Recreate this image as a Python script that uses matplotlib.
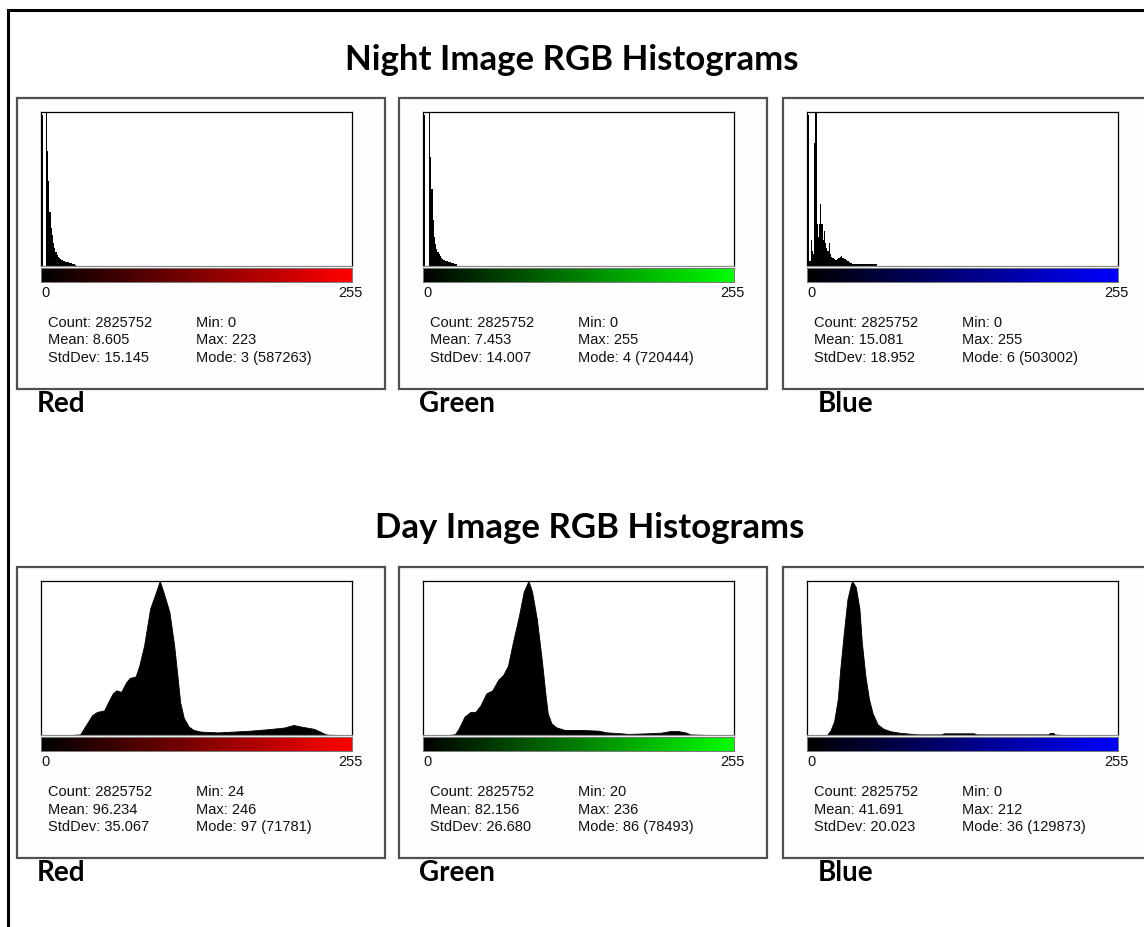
import numpy as np
import matplotlib
matplotlib.use("Agg")
import matplotlib.pyplot as plt
from matplotlib.patches import Rectangle
from matplotlib.lines import Line2D

# ********************** data **********************
channels = ["Red", "Green", "Blue"]
bar_colors = [(1, 0, 0), (0, 1, 0), (0, 0, 1)]

# night image: counts per grey level (levels 0..n, rest are ~0)
night_red_counts = [575500, 0, 0, 587263, 440400, 323000, 205500, 146800, 117500, 88100,
                    70500, 52900, 41100, 35200, 29400, 26400, 23500, 20600, 17600, 16400,
                    15300, 14100, 12900, 11700, 10600, 8800, 5900, 3500]
night_green_counts = [706000, 0, 0, 0, 720444, 511500, 360200, 216100, 136900, 100900,
                      79200, 64800, 54000, 46800, 39600, 32400, 28800, 25200, 23100, 21600,
                      20200, 18000, 15800, 14400, 13000, 10800, 7200]
night_blue_counts = [493000, 15100, 85500, 50300, 40200, 402400, 503002, 135800, 95600, 135800,
                     201200, 135800, 85500, 115700, 75500, 60400, 50300, 75500, 40200, 30200,
                     25200, 22600, 20100, 20100, 22600, 25200, 30200, 32700, 27700, 25200,
                     22600, 20100, 17600, 15100, 12600, 10100, 7800, 7400, 7600, 7200,
                     7500, 7700, 7300, 7100, 7400, 7600, 7200, 7000, 7300, 7500,
                     7100, 6900, 7200, 7000, 6800, 6600, 6400]

# day image: (grey level, count) points along the outline
day_red_levels = [24, 31, 33, 37, 41, 45, 51, 54, 58, 61, 65, 69, 72, 77, 80, 84, 89, 94, 97, 100,
                  105, 109, 112, 114, 117, 121, 125, 131, 145, 158, 172, 186, 200, 208, 214, 225,
                  230, 234, 236, 246]
day_red_counts = [0, 300, 2150, 5740, 9330, 10770, 11490, 15070, 19380, 20820, 20100, 24410, 26560,
                  27280, 32300, 41630, 58860, 66760, 71781, 66760, 57420, 41630, 25840, 15070, 7900,
                  3950, 2370, 1580, 1220, 1580, 2010, 2660, 3450, 4670, 3950, 2870, 1580, 500, 140, 0]
day_green_levels = [20, 25, 28, 33, 38, 42, 46, 51, 56, 61, 65, 69, 73, 78, 82, 86, 89, 93, 97, 100,
                    102, 105, 109, 116, 130, 144, 151, 163, 169, 184, 196, 204, 210, 217, 220, 236]
day_green_counts = [0, 390, 3140, 9420, 11770, 11770, 14910, 21190, 22760, 28260, 30610, 35320, 47100,
                    60440, 73000, 78493, 73000, 58870, 38460, 21190, 10990, 5970, 3920, 2590, 2590,
                    2200, 1330, 860, 550, 860, 1180, 2040, 2040, 1180, 310, 0]
day_blue_levels = [0, 15, 18, 21, 24, 26, 29, 32, 35, 36, 39, 42, 44, 47, 50, 53, 57, 62, 68, 75,
                   83, 90, 110, 112, 137, 139, 199, 200, 203, 204, 212]
day_blue_counts = [0, 0, 3900, 11690, 29870, 54550, 85720, 114290, 127280, 129873, 124680, 106500,
                   77920, 49350, 29870, 18180, 9090, 5190, 3120, 1950, 1170, 520, 520, 1430, 1430,
                   520, 520, 1690, 1690, 390, 0]

# stats boxes
night_stats = [["Count: 2825752", "Mean: 8.605", "StdDev: 15.145", "Min: 0", "Max: 223", "Mode: 3 (587263)"],
               ["Count: 2825752", "Mean: 7.453", "StdDev: 14.007", "Min: 0", "Max: 255", "Mode: 4 (720444)"],
               ["Count: 2825752", "Mean: 15.081", "StdDev: 18.952", "Min: 0", "Max: 255", "Mode: 6 (503002)"]]
day_stats = [["Count: 2825752", "Mean: 96.234", "StdDev: 35.067", "Min: 24", "Max: 246", "Mode: 97 (71781)"],
             ["Count: 2825752", "Mean: 82.156", "StdDev: 26.680", "Min: 20", "Max: 236", "Mode: 86 (78493)"],
             ["Count: 2825752", "Mean: 41.691", "StdDev: 20.023", "Min: 0", "Max: 212", "Mode: 36 (129873)"]]
night_modes = [587263, 720444, 503002]
day_modes = [71781, 78493, 129873]

# ********************** layout helpers (pixels) **********************
W, H = 1144, 928
fig = plt.figure(figsize=(W / 100, H / 100), dpi=100)
fig.patch.set_facecolor("white")


def frect(x, y, w, h):
    return [x / W, 1 - (y + h) / H, w / W, h / H]


def ftext(x, y, s, **kw):
    fig.text(x / W, 1 - y / H, s, **kw)


# outer frame (left + top only visible)
fig.add_artist(Line2D([8 / W, 8 / W], [0, 1 - 11 / H], color="black", lw=2.2, transform=fig.transFigure))
fig.add_artist(Line2D([8 / W, 1], [1 - 11 / H, 1 - 11 / H], color="black", lw=2.2, transform=fig.transFigure))

title_font = dict(family=["Lato", "DejaVu Sans"], weight="bold", color="black")
stat_font = dict(family=["Liberation Sans", "DejaVu Sans"], size=10.5, color="#111111", va="center")

ftext(572, 60, "Night Image RGB Histograms", ha="center", va="center", size=25, **title_font)
ftext(590, 528, "Day Image RGB Histograms", ha="center", va="center", size=25, **title_font)

box_x = [17, 399, 783]
label_x = [37, 419, 818]
rows = [(99, "night"), (568, "day")]

for by, kind in rows:
    for i in range(3):
        bx = box_x[i]
        # panel box
        fig.add_artist(Rectangle((bx / W, 1 - (by + 291) / H), 368 / W, 291 / H, transform=fig.transFigure,
                                 facecolor="#fdfdfd", edgecolor="#505050", lw=1.6, zorder=-5))
        px, py = bx + 24, by + 14
        ax = fig.add_axes(frect(px, py, 311, 154))
        if kind == "night":
            counts = [night_red_counts, night_green_counts, night_blue_counts][i]
            ax.bar(np.arange(len(counts)), counts, width=1, align="edge", color="black", lw=0)
            ax.set_ylim(0, night_modes[i])
            stats = night_stats[i]
        else:
            lv = [day_red_levels, day_green_levels, day_blue_levels][i]
            ct = [day_red_counts, day_green_counts, day_blue_counts][i]
            ax.fill_between(np.array(lv) + 0.5, ct, color="black", lw=0.6)
            ax.set_ylim(0, day_modes[i])
            stats = day_stats[i]
        ax.set_xlim(-1, 257)
        ax.set_xticks([])
        ax.set_yticks([])
        for sp in ax.spines.values():
            sp.set_color("black")
            sp.set_linewidth(0.9)
        ax.spines["bottom"].set_color("#8a8a8a")

        # gradient bar
        cax = fig.add_axes(frect(px, py + 156, 311, 14))
        ramp = np.linspace(0, 1, 256)
        img = np.zeros((1, 256, 3))
        for c in range(3):
            img[0, :, c] = ramp * bar_colors[i][c]
        cax.imshow(img, aspect="auto", extent=(0, 255, 0, 1))
        cax.set_xticks([])
        cax.set_yticks([])
        for sp in cax.spines.values():
            sp.set_color("#777777")
            sp.set_linewidth(0.7)

        ftext(px, by + 194, "0", ha="left", **stat_font)
        ftext(px + 322, by + 194, "255", ha="right", **stat_font)
        for k in range(3):
            ftext(bx + 31, by + 224 + 17.5 * k, stats[k], ha="left", **stat_font)
            ftext(bx + 179, by + 224 + 17.5 * k, stats[k + 3], ha="left", **stat_font)

        ftext(label_x[i], by + 305, channels[i], ha="left", va="center", size=20, **title_font)

fig.savefig("out.png", dpi=100)
